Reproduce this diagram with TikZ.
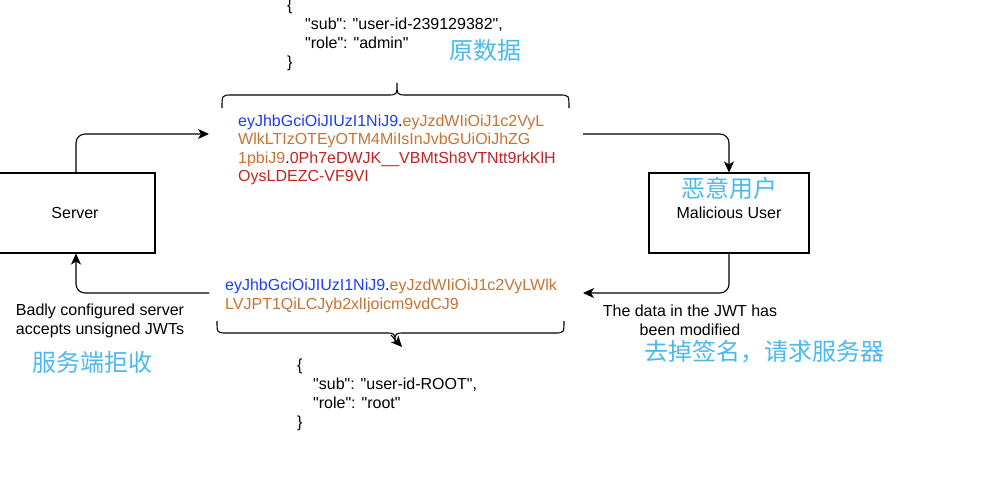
\documentclass[tikz,border=0pt]{standalone}
\usepackage{fontspec}
\setmainfont{Liberation Sans}[Ligatures=TeXOff]
\newfontfamily\cjk{Noto Sans CJK SC}
\usetikzlibrary{arrows.meta}
\newcommand{\dq}{\symbol{34}}
\definecolor{jblue}{RGB}{30,60,250}
\definecolor{jorange}{RGB}{200,115,50}
\definecolor{jred}{RGB}{195,35,35}
\definecolor{zhblue}{RGB}{75,185,240}
\tikzset{
  box/.style={draw=black, line width=1.1pt, minimum width=160pt, minimum height=80pt, inner sep=0pt, font=\fontsize{16}{19}\selectfont},
  conn/.style={draw=black, line width=1.1pt, rounded corners=9pt, -{Stealth[length=11pt,width=10pt,inset=3pt]}},
  brace/.style={draw=black, line width=1.1pt},
  lbl/.style={font=\fontsize{16}{19}\selectfont, align=center, inner sep=0pt},
  json/.style={font=\fontsize{16}{19}\selectfont, align=left, inner sep=0pt, anchor=north west},
  jwt/.style={font=\fontsize{16}{18.5}\selectfont, align=left, inner sep=0pt, anchor=north west},
  zh/.style={font=\cjk\fontsize{24}{28}\selectfont, text=zhblue, inner sep=0pt}
}
\begin{document}
\begin{tikzpicture}[x=1pt,y=-1pt]
\useasboundingbox (0,0) rectangle (1007,490);
\clip (0,0) rectangle (1007,490);
\fill[white] (0,0) rectangle (1007,490);

% boxes
\node[box] (server) at (75,213) {Server};
\node[box] (mal) at (729,213) {Malicious User};
\node[zh] (malzh) at (729,188) {恶意用户};

% JSON top
\node[json] (json1) at (287,-1) {\{\\\hspace*{18pt}\dq sub\dq: \dq user-id-239129382\dq,\\\hspace*{18pt}\dq role\dq: \dq admin\dq\\\}};
\node[zh] (orig) at (485,50) {原数据};

% top brace
\draw[brace] (222,108) .. controls (222,95) .. (232,95) -- (387,95) .. controls (397,95) .. (397,83) .. controls (397,95) .. (407,95) -- (559,95) .. controls (569,95) .. (569,108);
\coordinate (t1) at (397,83);

% JWT top
\node[jwt] (jwt1) at (238,114.5) {\textcolor{jblue}{eyJhbGciOiJIUzI1NiJ9}.\textcolor{jorange}{eyJzdWIiOiJ1c2VyL}\\
\textcolor{jorange}{WlkLTIzOTEyOTM4MiIsInJvbGUiOiJhZG}\\
\textcolor{jorange}{1pbiJ9}.\textcolor{jred}{0Ph7eDWJK\_\_VBMtSh8VTNtt9rkKlH}\\
\textcolor{jred}{OysLDEZC-VF9VI}};

% JWT bottom
\node[jwt] (jwt2) at (225,279) {\textcolor{jblue}{eyJhbGciOiJIUzI1NiJ9}.\textcolor{jorange}{eyJzdWIiOiJ1c2VyLWlk}\\
\textcolor{jorange}{LVJPT1QiLCJyb2xlIjoicm9vdCJ9}};

% bottom brace
\draw[brace] (217,321) .. controls (217,333) .. (227,333) -- (385,333) .. controls (395,333) .. (395,343) .. controls (395,333) .. (405,333) -- (554,333) .. controls (564,333) .. (564,321);
\coordinate (b1) at (391,335);
\coordinate (b2) at (402,347);
\draw[line width=1.1pt, -{Stealth[length=11pt,width=10pt,inset=3pt]}] (b1) -- (b2);

% JSON bottom
\node[json] (json2) at (297,359) {\{\\\hspace*{16pt}\dq sub\dq: \dq user-id-ROOT\dq,\\\hspace*{16pt}\dq role\dq: \dq root\dq\\\}};

% connectors
\coordinate (a1e) at (209,134);
\coordinate (a2s) at (583,134);
\coordinate (a3e) at (583,293);
\coordinate (a4s) at (209,293);
\draw[conn] (server.north -| 76,0) |- (a1e);
\draw[conn] (a2s) -| (mal.north);
\draw[conn] (mal.south) |- (a3e);
\draw[conn] (a4s) -| (server.south -| 76,0);

% labels
\node[lbl] (lbl1) at (100,321) {Badly configured server\\accepts unsigned JWTs};
\node[zh] (rej) at (92,362) {服务端拒收};
\node[lbl] (lbl2) at (690,320) {The data in the JWT has\\been modified};
\node[zh] (strip) at (764,352) {去掉签名，请求服务器};
\end{tikzpicture}
\end{document}
